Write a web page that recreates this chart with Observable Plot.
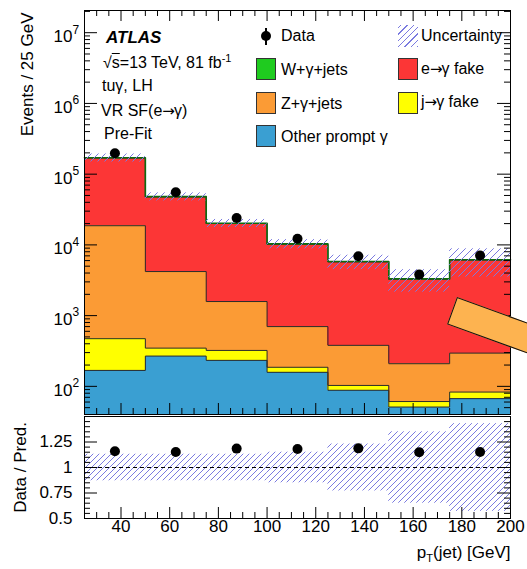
<!DOCTYPE html>
<html><head><meta charset="utf-8">
<script src="https://cdn.jsdelivr.net/npm/d3@7"></script>
<script src="https://cdn.jsdelivr.net/npm/@observablehq/plot@0.6"></script>
<style>
body{margin:0;background:#fff;font-family:"Liberation Sans",Arial,sans-serif;}
#wrap{position:relative;width:527px;height:569px;overflow:hidden;background:#fff}
#wrap svg{display:block}
.lbl{position:absolute;font-size:16px;line-height:20px;height:20px;white-space:nowrap;color:#000}
.box{position:absolute;width:20px;height:22px;box-sizing:border-box;border:1px solid #333}
.arr{font-family:"DejaVu Sans",sans-serif;font-size:15px;letter-spacing:-1px}
</style></head><body><div id="wrap"></div>
<script>
// ---- data ----
const binLow = [25, 50, 75, 100, 125, 150, 175];
const binWidth = 25;
const processes = ["Other prompt γ", "j→γ fake", "Z+γ+jets", "e→γ fake", "W+γ+jets"];
const colors = ["#3a9fd2", "#ffff00", "#fb9b35", "#fc3636", "#1fcb1f"];
const otherPrompt = [168, 268, 233, 158, 88, 51, 67];
const jetFake = [304, 79, 89, 28, 15, 10, 16];
const zGamma = [18200, 3850, 1260, 514, 277, 148, 212];
const eFake = [150600, 43500, 18470, 9520, 5370, 3061, 5805];
const wGamma = [1500, 450, 200, 110, 60, 35, 60];
const dataCounts = [198000, 55500, 24000, 12200, 6900, 3800, 7100];
const relUnc = [0.13, 0.13, 0.13, 0.15, 0.23, 0.35, 0.43];
const xTickLabels = [40, 60, 80, 100, 120, 140, 160, 180, 200];
const decadeTicks = [1e2, 1e3, 1e4, 1e5, 1e6, 1e7];
const ratioTickLabels = [0.5, 0.75, 1, 1.25];

// ---- derived tables ----
const series = [otherPrompt, jetFake, zGamma, eFake, wGamma];
const stackRows = [];
const outlines = [];
const cum = binLow.map(() => 0);
series.forEach((vals, k) => {
  binLow.forEach((x, i) => {
    const y1 = cum[i], y2 = cum[i] + vals[i];
    stackRows.push({x1: x, x2: x + binWidth, y1: y1 > 0 ? y1 : 1, y2, process: processes[k]});
    cum[i] = y2;
  });
  const pts = binLow.map((x, i) => ({x, y: cum[i], k}));
  pts.push({x: binLow[binLow.length - 1] + binWidth, y: cum[cum.length - 1], k});
  outlines.push(...pts);
});
const total = cum.slice();
const bins = binLow.map((x, i) => ({
  x1: x, x2: x + binWidth, xc: x + binWidth / 2,
  lo: total[i] * (1 - relUnc[i]), hi: total[i] * (1 + relUnc[i]),
  rlo: 1 - relUnc[i], rhi: 1 + relUnc[i],
  data: dataCounts[i], ratio: dataCounts[i] / total[i]
}));

const W = 527, ML = 84, MR = 17;
const font = '"Liberation Sans", Arial, sans-serif';
const minorX = d3.range(25, 201, 5);
const majorX = xTickLabels;
const minorXOnly = minorX.filter(v => !majorX.includes(v));
const minorLog = [];
for (let n = 1; n <= 7; n++) for (let k = 2; k <= 9; k++) { const v = k * 10 ** n; if (v >= 40 && v <= 2.06e7) minorLog.push(v); }

// ---- main panel ----
const H1 = 415, MT1 = 10, MB1 = 1, PH1 = H1 - MT1 - MB1, PW = W - ML - MR;
const main = Plot.plot({
  width: W, height: H1, marginLeft: ML, marginRight: MR, marginTop: MT1, marginBottom: MB1,
  style: {fontFamily: font, color: "black", background: "transparent"},
  x: {domain: [25, 200], axis: null},
  y: {type: "log", domain: [40, 2.06e7], axis: null},
  color: {domain: processes, range: colors},
  marks: [
    Plot.rect(stackRows, {x1: "x1", x2: "x2", y1: "y1", y2: "y2", fill: "process", clip: true, shapeRendering: "crispEdges"}),
    Plot.line(outlines.filter(d => d.k < 4), {x: "x", y: "y", z: "k", curve: "step-after", stroke: "#2a2a2a", strokeWidth: 1}),
    Plot.line(outlines.filter(d => d.k === 4), {x: "x", y: "y", curve: "step-after", stroke: "#0f6a0f", strokeWidth: 1.6}),
    Plot.rect(bins, {x1: "x1", x2: "x2", y1: "lo", y2: "hi", fill: "url(#hatchMain)"}),
    Plot.dot(bins, {x: "xc", y: "data", r: 5, fill: "black"}),
    // ticks
    Plot.tickX(majorX, {x: d => d, insetTop: PH1 - 11, stroke: "black"}),
    Plot.tickX(minorXOnly, {x: d => d, insetTop: PH1 - 6, stroke: "black"}),
    Plot.tickX(majorX, {x: d => d, insetBottom: PH1 - 11, stroke: "black"}),
    Plot.tickX(minorXOnly, {x: d => d, insetBottom: PH1 - 6, stroke: "black"}),
    Plot.tickY(decadeTicks, {y: d => d, insetRight: PW - 13, stroke: "black"}),
    Plot.tickY(minorLog, {y: d => d, insetRight: PW - 6, stroke: "black"}),
    Plot.tickY(decadeTicks, {y: d => d, insetLeft: PW - 13, stroke: "black"}),
    Plot.tickY(minorLog, {y: d => d, insetLeft: PW - 6, stroke: "black"}),
    Plot.frame({stroke: "black", strokeWidth: 1}),
    // y tick labels 10^n
    Plot.text(decadeTicks, {y: d => d, frameAnchor: "left", text: () => "10", textAnchor: "end", dx: -12, dy: 4, fontSize: 17, fill: "black"}),
    Plot.text(decadeTicks, {y: d => d, frameAnchor: "left", text: d => String(Math.round(Math.log10(d))), textAnchor: "start", dx: -12, dy: -3, fontSize: 12, fill: "black"}),
    Plot.text(["Events / 25 GeV"], {frameAnchor: "top-left", rotate: -90, textAnchor: "end", dx: -64, dy: 2, fontSize: 17, fill: "black"})
  ]
});
d3.select(main).insert("defs", ":first-child").html(
  '<pattern id="hatchMain" patternUnits="userSpaceOnUse" width="7" height="7">' +
  '<path d="M0,7 L7,0 M-2,2 L2,-2 M5,9 L9,5" stroke="#7b7be0" stroke-width="1"/></pattern>');

// ---- ratio panel ----
const H2 = 154, MT2 = 1, MB2 = 51, PH2 = H2 - MT2 - MB2;
const minorR = d3.range(0.5, 1.5001, 0.05).map(v => +v.toFixed(2)).filter(v => Math.abs((v / 0.25) - Math.round(v / 0.25)) > 1e-6);
const majorR = [0.5, 0.75, 1, 1.25, 1.5];
const ratio = Plot.plot({
  width: W, height: H2, marginLeft: ML, marginRight: MR, marginTop: MT2, marginBottom: MB2,
  style: {fontFamily: font, color: "black", background: "transparent", overflow: "visible"},
  x: {domain: [25, 200], axis: null},
  y: {domain: [0.5, 1.5], axis: null},
  marks: [
    Plot.rect(bins, {x1: "x1", x2: "x2", y1: "rlo", y2: "rhi", fill: "url(#hatchRatio)"}),
    Plot.ruleY([1], {stroke: "black", strokeDasharray: "4,3", strokeWidth: 1}),
    Plot.dot(bins, {x: "xc", y: "ratio", r: 5, fill: "black"}),
    Plot.tickX(majorX, {x: d => d, insetTop: PH2 - 11, stroke: "black"}),
    Plot.tickX(minorXOnly, {x: d => d, insetTop: PH2 - 6, stroke: "black"}),
    Plot.tickY(majorR, {y: d => d, insetRight: PW - 13, stroke: "black"}),
    Plot.tickY(minorR, {y: d => d, insetRight: PW - 6, stroke: "black"}),
    Plot.tickY(majorR, {y: d => d, insetLeft: PW - 13, stroke: "black"}),
    Plot.tickY(minorR, {y: d => d, insetLeft: PW - 6, stroke: "black"}),
    Plot.frame({stroke: "black", strokeWidth: 1}),
    Plot.text(ratioTickLabels, {y: d => d, frameAnchor: "left", text: d => String(d), textAnchor: "end", dx: -12, fontSize: 17, fill: "black"}),
    Plot.text(xTickLabels, {x: d => d, frameAnchor: "bottom", text: d => String(d), dy: 13, fontSize: 17, fill: "black"}),
    Plot.text(["Data / Pred."], {frameAnchor: "left", rotate: -90, textAnchor: "middle", dx: -64, fontSize: 17, fill: "black"}),
    Plot.text(["pT(jet) [GeV]"], {frameAnchor: "bottom-right", textAnchor: "end", dy: 39, fontSize: 17, fill: "black"})
  ]
});
d3.select(ratio).insert("defs", ":first-child").html(
  '<pattern id="hatchRatio" patternUnits="userSpaceOnUse" width="6" height="6">' +
  '<path d="M0,6 L6,0 M-2,2 L2,-2 M4,8 L8,4" stroke="#7b7be0" stroke-width="1"/></pattern>');
d3.select(ratio).selectAll("text").filter(function() { return this.textContent === "pT(jet) [GeV]"; })
  .each(function() {
    const t = d3.select(this); t.text("");
    t.append("tspan").text("p");
    t.append("tspan").attr("dy", 4).attr("font-size", 11).text("T");
    t.append("tspan").attr("dy", -4).text("(jet) [GeV]");
  });

const wrap = document.getElementById("wrap");
wrap.appendChild(main);
wrap.appendChild(ratio);

// ---- in-panel labels and legend (HTML overlay) ----
const arrow = s => s.replace("→", '<span class="arr">→</span>');
function label(html, left, center, extra = "") {
  const d = document.createElement("div");
  d.className = "lbl"; d.style.left = left + "px"; d.style.top = (center - 10) + "px";
  d.style.cssText += extra; d.innerHTML = html; wrap.appendChild(d); return d;
}
function box(left, top, style) {
  const d = document.createElement("div");
  d.className = "box"; d.style.left = left + "px"; d.style.top = top + "px";
  d.style.cssText += style; wrap.appendChild(d);
}
label("ATLAS", 106, 37.5, "font-weight:bold;font-style:italic;font-size:17px;");
label('√<span style="text-decoration:overline">s</span>=13 TeV, 81 fb<sup style="font-size:11px;line-height:0">-1</sup>', 103, 62.5);
label("tuγ, LH", 102, 86);
label(arrow("VR SF(e→γ)"), 101, 111);
label("Pre-Fit", 104, 134);

// Data marker
const bar = document.createElement("div");
bar.style.cssText = "position:absolute;left:265px;top:28px;width:2px;height:17px;background:#000";
wrap.appendChild(bar);
const dot = document.createElement("div");
dot.style.cssText = "position:absolute;left:261px;top:31px;width:10px;height:10px;border-radius:50%;background:#000";
wrap.appendChild(dot);
label("Data", 281, 36);
const legendLeft = [
  {name: "W+γ+jets", color: colors[4], top: 58},
  {name: "Z+γ+jets", color: colors[2], top: 92},
  {name: "Other prompt γ", color: colors[0], top: 125}
];
legendLeft.forEach(e => { box(256, e.top, "background:" + e.color); label(e.name, 281, e.top + 11.5); });
box(398, 25, "border:none;background:repeating-linear-gradient(-45deg,#7b7be0 0 1px,transparent 1px 4.5px)");
label("Uncertainty", 421, 36);
box(398, 58, "background:" + colors[3]); label(arrow("e→γ fake"), 421, 69);
box(398, 92, "background:" + colors[1]); label(arrow("j→γ fake"), 421, 102);

// overlapping sticker seen in the reference
const sticker = document.createElement("div");
sticker.style.cssText = "position:absolute;left:456.7px;top:297.3px;width:110px;height:29px;background:#fdb350;border:1px solid #111;box-sizing:border-box;transform-origin:0 0;transform:rotate(20deg)";
wrap.appendChild(sticker);
</script></body></html>
